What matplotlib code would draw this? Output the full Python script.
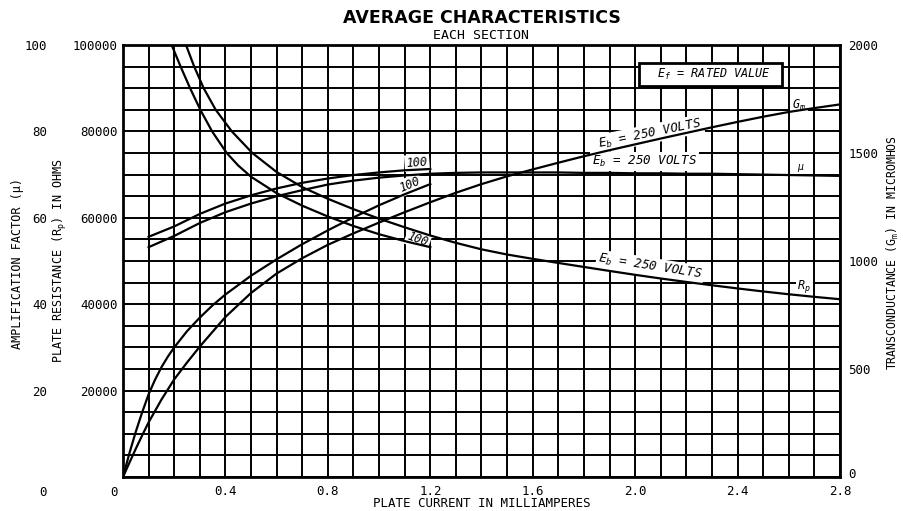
import numpy as np
import matplotlib
matplotlib.use("Agg")
import matplotlib.pyplot as plt
from matplotlib.transforms import ScaledTranslation

plt.rcParams['mathtext.fontset'] = 'custom'
plt.rcParams['mathtext.rm'] = 'DejaVu Sans Mono'
plt.rcParams['mathtext.it'] = 'DejaVu Sans Mono:oblique'
plt.rcParams['mathtext.default'] = 'regular'

# ---------------- data ----------------
# Transconductance Gm (micromhos) vs plate current (mA)
i_gm_100 = [0.0, 0.025, 0.05, 0.075, 0.1, 0.125, 0.15, 0.175, 0.2, 0.25, 0.3, 0.35,
            0.4, 0.5, 0.6, 0.7, 0.8, 0.9, 1.0, 1.1, 1.2]
gm_100 = [0, 110, 210, 300, 383, 450, 508, 557, 600, 675, 738, 795,
          845, 932, 1008, 1078, 1142, 1202, 1258, 1309, 1356]
i_gm_250 = [0.0, 0.025, 0.05, 0.075, 0.1, 0.15, 0.2, 0.25, 0.3, 0.4, 0.5, 0.6, 0.7,
            0.8, 0.9, 1.0, 1.1, 1.2, 1.3, 1.4, 1.5, 1.6, 1.7, 1.8, 1.9, 2.0,
            2.1, 2.2, 2.3, 2.4, 2.5, 2.6, 2.7, 2.8]
gm_250 = [0, 66, 131, 193, 253, 358, 452, 530, 604, 741, 852, 942, 1013,
          1075, 1128, 1178, 1226, 1272, 1316, 1356, 1392, 1424, 1455, 1485, 1513, 1540,
          1567, 1593, 1619, 1644, 1668, 1690, 1708, 1725]

# Amplification factor mu vs plate current (mA)
i_mu_100 = [0.1, 0.2, 0.3, 0.4, 0.5, 0.6, 0.7, 0.8, 0.9, 1.0, 1.1, 1.2]
mu_100 = [55.6, 58.0, 60.9, 63.3, 65.2, 66.8, 68.1, 69.1, 69.9, 70.5, 71.0, 71.3]
i_mu_250 = [0.1, 0.2, 0.3, 0.4, 0.5, 0.6, 0.7, 0.8, 0.9, 1.0, 1.1, 1.2, 1.3, 1.4,
            1.5, 1.6, 1.7, 1.8, 1.9, 2.0, 2.1, 2.2, 2.3, 2.4, 2.5, 2.6, 2.7, 2.8]
mu_250 = [53.2, 55.8, 58.8, 61.3, 63.3, 65.0, 66.4, 67.7, 68.6, 69.3, 69.8, 70.2, 70.4, 70.5,
          70.5, 70.5, 70.5, 70.4, 70.4, 70.3, 70.3, 70.2, 70.2, 70.1, 70.0, 69.9, 69.8, 69.7]

# Plate resistance Rp (ohms) vs plate current (mA)
i_rp_100 = [0.19, 0.225, 0.262, 0.302, 0.348, 0.405, 0.45, 0.5, 0.6, 0.7, 0.8, 0.9,
            1.0, 1.1, 1.2]
rp_100 = [100000, 95000, 90000, 85000, 80000, 75000, 72100, 69500, 65700, 62800, 60300, 58100,
          56200, 54600, 53200]
i_rp_250 = [0.246, 0.278, 0.315, 0.362, 0.425, 0.505, 0.6, 0.7, 0.8, 0.9, 1.0, 1.1,
            1.2, 1.3, 1.4, 1.5, 1.6, 1.7, 1.8, 1.9, 2.0, 2.1, 2.2, 2.3, 2.4, 2.5,
            2.6, 2.7, 2.8]
rp_250 = [100000, 95000, 90000, 85000, 80000, 75000, 70600, 67100, 64400, 62000, 59800, 57800,
          55900, 54200, 52700, 51500, 50500, 49550, 48620, 47700, 46800, 45950, 45150, 44380,
          43650, 42950, 42300, 41700, 41150]

# axis ticks
x_ticks = [0.4, 0.8, 1.2, 1.6, 2.0, 2.4, 2.8]
x_ticklabels = ["0.4", "0.8", "1.2", "1.6", "2.0", "2.4", "2.8"]
rp_ticks = [0, 20000, 40000, 60000, 80000, 100000]
rp_ticklabels = ["0", "20000", "40000", "60000", "80000", "100000"]
mu_ticks = [0, 20, 40, 60, 80, 100]
mu_ticklabels = ["0", "20", "40", "60", "80", "100"]
gm_ticks = [0, 500, 1000, 1500, 2000]
gm_ticklabels = ["0", "500", "1000", "1500", "2000"]

# ---------------- figure ----------------
MONO = 'DejaVu Sans Mono'
W, H = 904, 511
fig = plt.figure(figsize=(W / 100, H / 100), dpi=100)
fig.patch.set_facecolor('white')
ax = fig.add_axes([123 / W, (H - 477) / H, 717 / W, 432 / H])
ax.set_xlim(0, 2.8)
ax.set_ylim(0, 100000)

# grid every 0.1 mA and every 5000 ohm
ax.set_xticks(np.arange(0, 2.8001, 0.1), minor=True)
ax.set_yticks(np.arange(0, 100001, 5000), minor=True)
ax.set_xticks(x_ticks)
ax.set_xticklabels(x_ticklabels, fontfamily=MONO, fontsize=9)
ax.set_yticks(rp_ticks)
ax.set_yticklabels(rp_ticklabels, fontfamily=MONO, fontsize=9)
ax.grid(which='both', color='black', lw=1.4)
ax.tick_params(which='both', length=0)
ax.tick_params(axis='x', pad=6)
ax.tick_params(axis='y', pad=4)
for s in ax.spines.values():
    s.set_linewidth(2)
    s.set_color('black')

# mu axis (far left)
ax_mu = ax.twinx()
ax_mu.set_ylim(0, 100)
ax_mu.yaxis.set_ticks_position('left')
ax_mu.yaxis.set_label_position('left')
ax_mu.spines['left'].set_position(('axes', -0.1))
for s in ax_mu.spines.values():
    s.set_visible(False)
ax_mu.set_yticks(mu_ticks)
ax_mu.set_yticklabels(mu_ticklabels, fontfamily=MONO, fontsize=9)
ax_mu.tick_params(length=0, pad=3)

# Gm axis (right)
ax_gm = ax.twinx()
ax_gm.set_ylim(0, 2000)
for s in ax_gm.spines.values():
    s.set_visible(False)
ax_gm.set_yticks(gm_ticks)
ax_gm.set_yticklabels(gm_ticklabels, fontfamily=MONO, fontsize=9)
ax_gm.tick_params(length=0, pad=6)

# push the two "0" labels below the x axis (offsets in pixels / dpi)
off = ScaledTranslation(0, -14 / 100, fig.dpi_scale_trans)
for a in (ax, ax_mu):
    lab0 = a.get_yticklabels()[0]
    lab0.set_transform(lab0.get_transform() + off)
lab0 = ax_gm.get_yticklabels()[0]
lab0.set_transform(lab0.get_transform() + ScaledTranslation(0, 4 / 100, fig.dpi_scale_trans))

# curves
LW = 1.6
ax.plot(i_rp_100, rp_100, color='black', lw=LW, zorder=4)
ax.plot(i_rp_250, rp_250, color='black', lw=LW, zorder=4)
ax_mu.plot(i_mu_100, mu_100, color='black', lw=LW, zorder=4)
ax_mu.plot(i_mu_250, mu_250, color='black', lw=LW, zorder=4)
ax_gm.plot(i_gm_100, gm_100, color='black', lw=LW, zorder=4)
ax_gm.plot(i_gm_250, gm_250, color='black', lw=LW, zorder=4)

# axis labels
ax.set_xlabel("PLATE CURRENT IN MILLIAMPERES", fontfamily=MONO, fontsize=9)
ax.xaxis.set_label_coords(0.5, -0.046)
ax.set_ylabel("PLATE RESISTANCE (R$_p$) IN OHMS", fontfamily=MONO, fontsize=8.5)
ax.yaxis.set_label_coords(-0.075, 0.5)
ax_mu.set_ylabel("AMPLIFICATION FACTOR (\u03bc)", fontfamily=MONO, fontsize=8.5)
ax_mu.yaxis.set_label_coords(-0.138, 0.495)
ax_gm.set_ylabel("TRANSCONDUCTANCE (G$_m$) IN MICROMHOS", fontfamily=MONO, fontsize=8.3)
ax_gm.yaxis.set_label_coords(1.063, 0.52)

# titles
cx = (123 + 840) / 2 / W
fig.text(cx, 1 - 18 / H, "AVERAGE CHARACTERISTICS", ha='center', va='center',
         fontsize=12.5, fontweight='bold', family='DejaVu Sans')
fig.text(cx, 1 - 35 / H, "EACH SECTION", ha='center', va='center',
         fontsize=9.5, family=MONO)

# curve annotations
wb = dict(boxstyle='square,pad=0.15', fc='white', ec='none')
common = dict(transform=ax.transAxes, ha='center', va='center', family=MONO,
              style='italic', zorder=3)
ax.text(0.735, 0.794, "E$_b$ = 250 VOLTS", rotation=11.5, fontsize=9, bbox=wb, **common)
ax.text(0.943, 0.861, "G$_m$", fontsize=8.5, bbox=wb, **common)
ax.text(0.727, 0.731, "E$_b$ = 250 VOLTS", fontsize=9, bbox=wb, **common)
ax.text(0.944, 0.718, "\u03bc", fontsize=7, bbox=wb, **common)
ax.text(0.735, 0.486, "E$_b$ = 250 VOLTS", rotation=-9, fontsize=9, bbox=wb, **common)
ax.text(0.950, 0.440, "R$_p$", fontsize=8.5, bbox=wb, **common)
ax.text(0.410, 0.727, "100", rotation=4, fontsize=8.5, bbox=wb, **common)
ax.text(0.400, 0.676, "100", rotation=23, fontsize=8.5, bbox=wb, **common)
ax.text(0.411, 0.549, "100", rotation=-20, fontsize=8.5, bbox=wb, **common)
ax.text(0.819, 0.931, "  E$_f$ = RATED VALUE  ", fontsize=8.5,
        bbox=dict(boxstyle='square,pad=0.35', fc='white', ec='black', lw=2), **common)

fig.savefig("out.png", dpi=100, facecolor='white')
